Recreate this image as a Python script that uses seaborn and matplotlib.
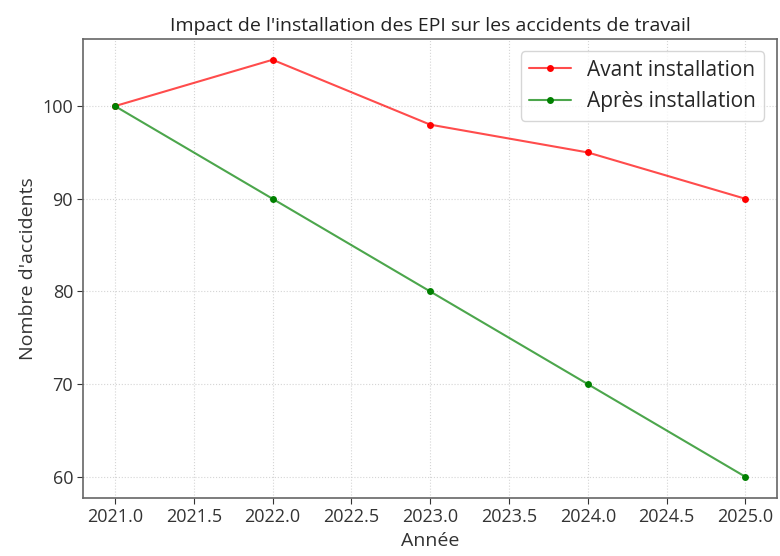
import pandas as pd
import matplotlib
matplotlib.use('Agg')
import matplotlib.pyplot as plt
import seaborn as sns

# Data
years = [2021, 2022, 2023, 2024, 2025]
avant = [100, 105, 98, 95, 90]
apres = [100, 90, 80, 70, 60]

df = pd.DataFrame({
    'Année': years * 2,
    "Nombre d'accidents": avant + apres,
    'Série': ['Avant installation'] * 5 + ['Après installation'] * 5,
})

sns.set_style('white')
plt.rcParams['font.family'] = ['Open Sans', 'DejaVu Sans']

fig, ax = plt.subplots(figsize=(7.8, 5.56), dpi=100)
sns.lineplot(data=df, x='Année', y="Nombre d'accidents", hue='Série',
             palette={'Avant installation': 'red', 'Après installation': 'green'},
             marker='o', markersize=5, markeredgewidth=0,
             linewidth=1.5, ax=ax)

# semi-transparent lines, opaque markers like the reference
from matplotlib.colors import to_rgba
for line in ax.get_lines():
    c = line.get_color()
    line.set_color(to_rgba(c, 0.7))
    line.set_markerfacecolor(to_rgba(c, 1.0))
    line.set_markeredgecolor(to_rgba(c, 1.0))

ax.set_title("Impact de l'installation des EPI sur les accidents de travail", fontsize=14, color='#222222')
ax.set_xlabel('Année', fontsize=14, color='#333333')
ax.set_ylabel("Nombre d'accidents", fontsize=14, color='#333333')
ax.tick_params(axis='both', labelsize=13, colors='#333333', length=4, bottom=True, left=True)
ax.set_xticks([2021.0, 2021.5, 2022.0, 2022.5, 2023.0, 2023.5, 2024.0, 2024.5, 2025.0])
ax.set_xticklabels([f'{v:.1f}' for v in ax.get_xticks()])
ax.grid(True, linestyle=':', color='#d5d5d5', linewidth=0.8)
for s in ax.spines.values():
    s.set_color('#666666')
    s.set_linewidth(1.2)

leg = ax.legend(title=None, fontsize=15, loc='upper right', frameon=True, borderaxespad=0.6)
for h in leg.legend_handles:
    c = h.get_color()
    h.set_color(to_rgba(c, 0.7))
    h.set_markerfacecolor(to_rgba(c, 1.0))
    h.set_markeredgecolor(to_rgba(c, 1.0))

plt.subplots_adjust(left=0.107, right=0.996, top=0.93, bottom=0.105)
fig.savefig('out.png', dpi=100)
